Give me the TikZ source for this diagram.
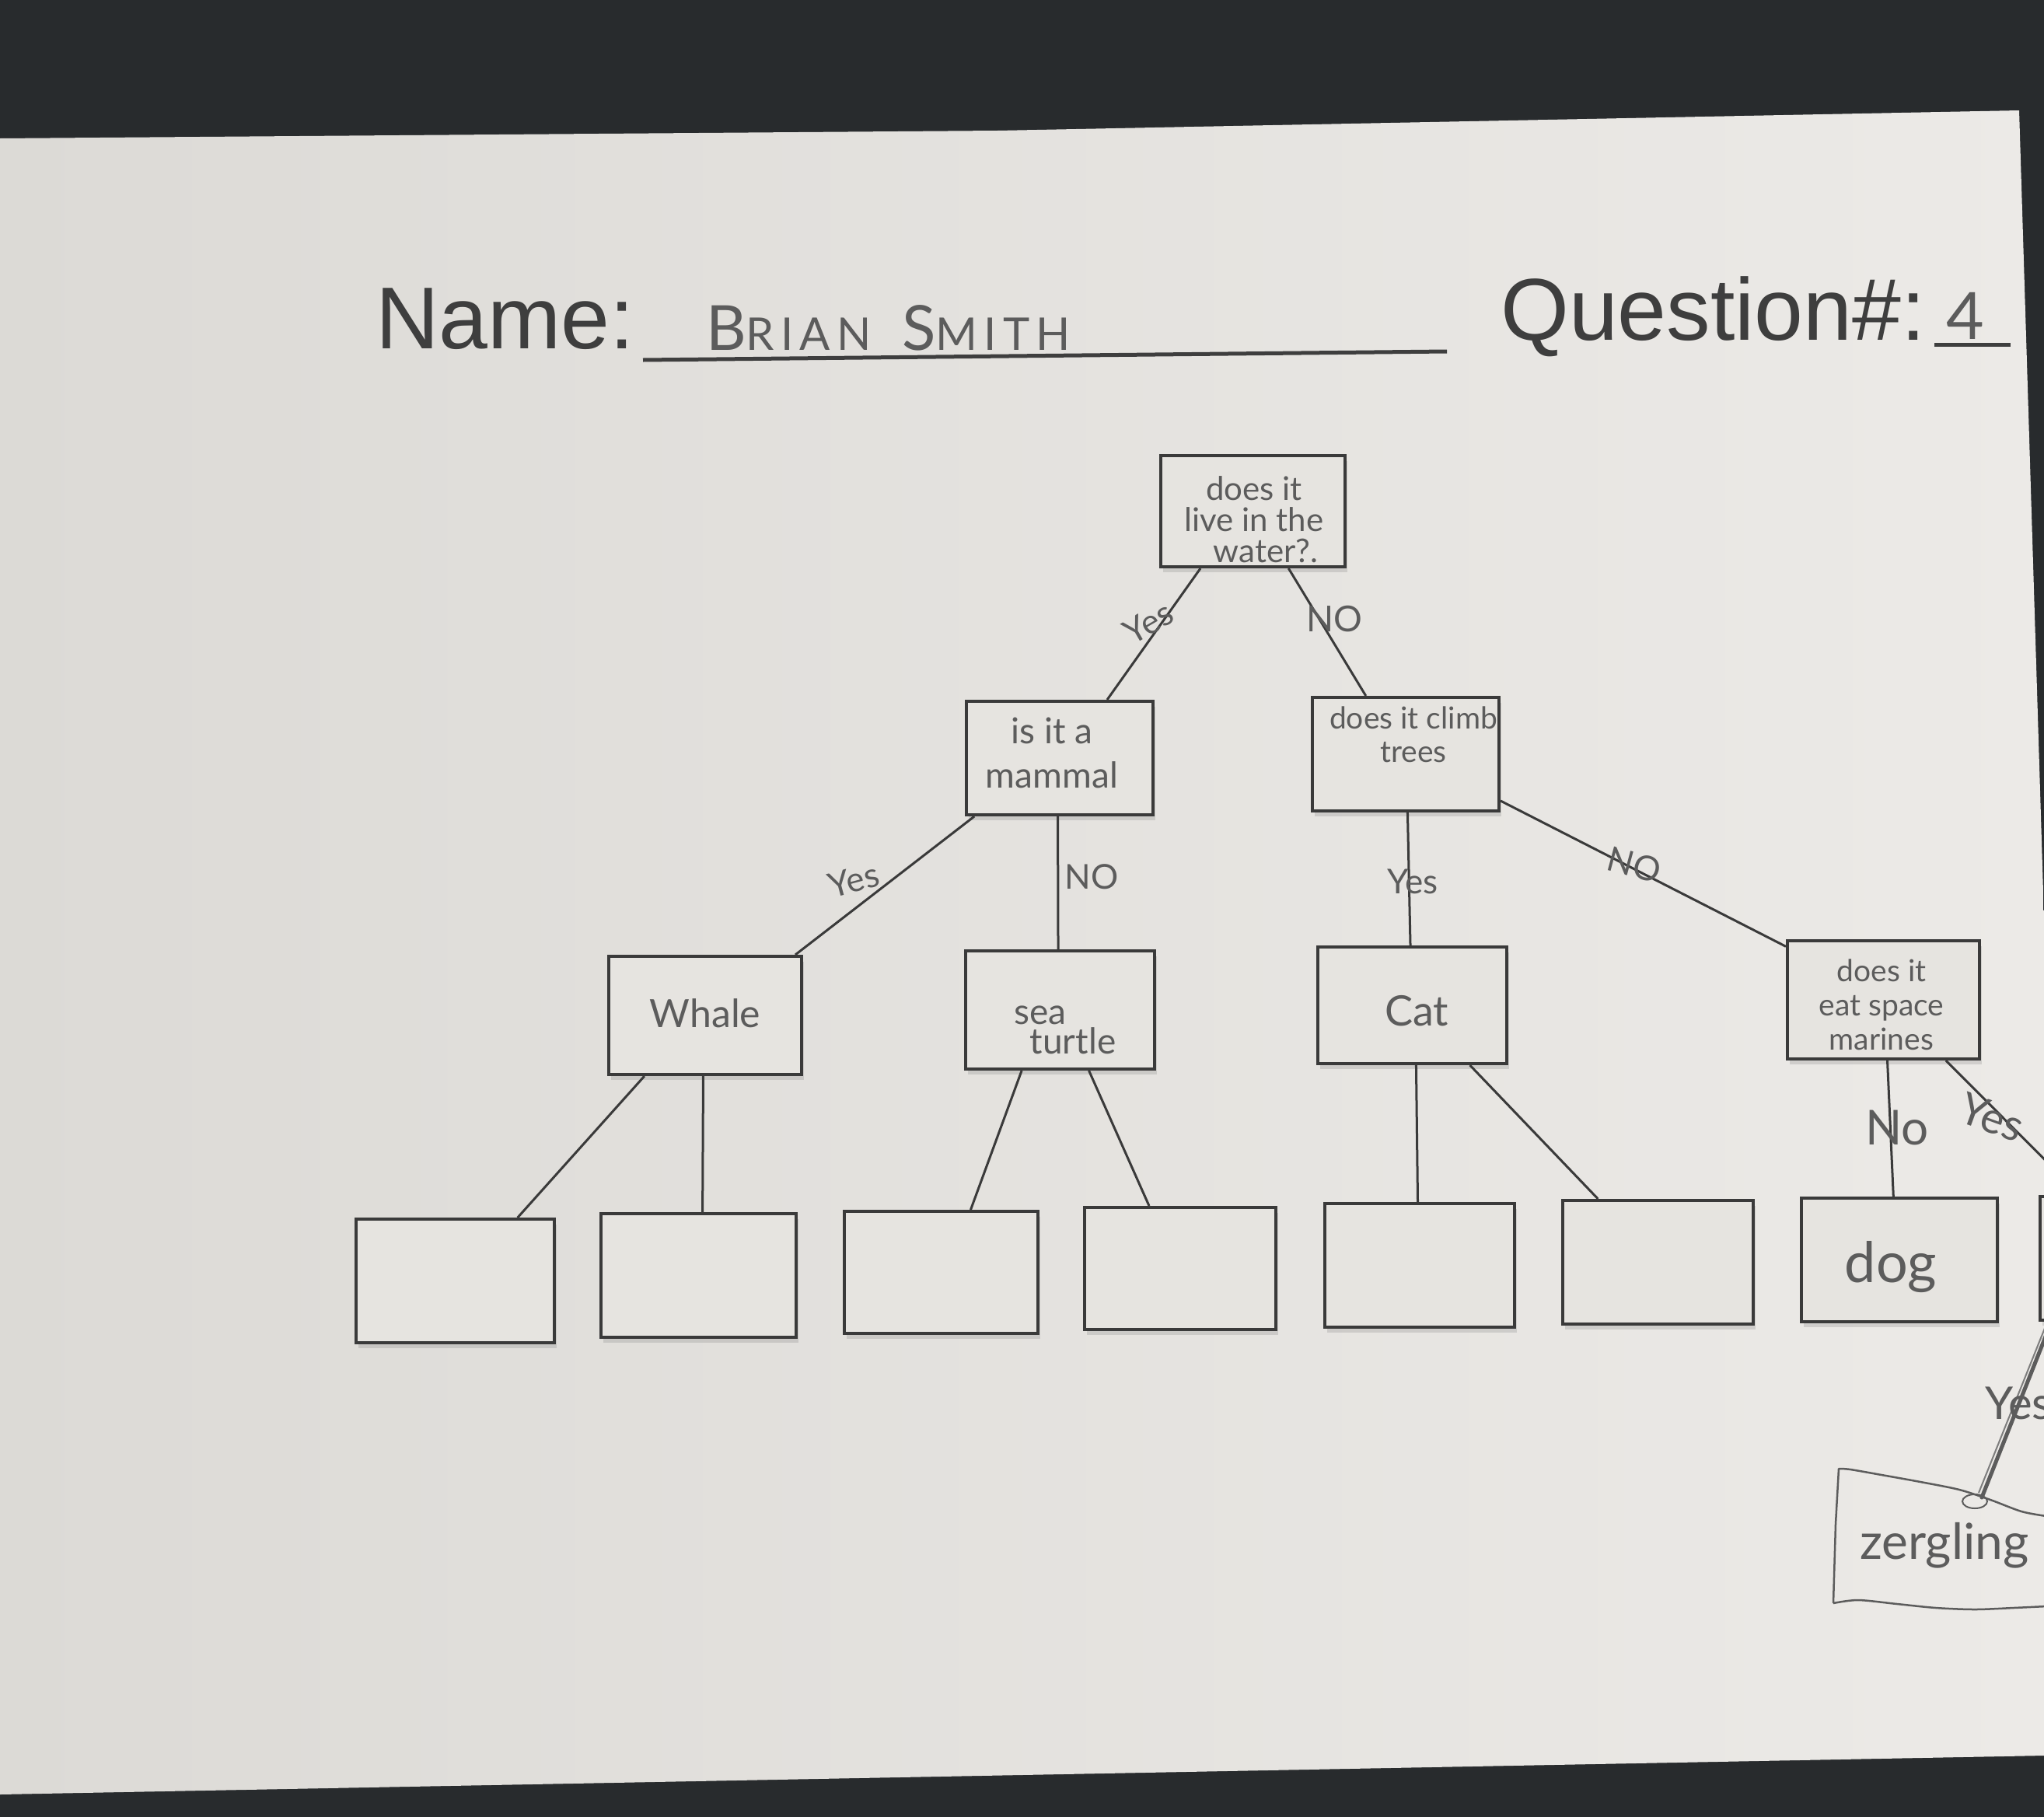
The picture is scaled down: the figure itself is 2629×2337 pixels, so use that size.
\documentclass[tikz,border=0pt]{standalone}
\usepackage{fontspec}
\setmainfont{Liberation Sans}
\newfontfamily\hand{Lato}
\newfontfamily\handwide{Lato}[LetterSpace=14]
\usetikzlibrary{shadows,calc}
\definecolor{desk}{RGB}{40,43,45}
\definecolor{paperL}{RGB}{220,218,214}
\definecolor{paperR}{RGB}{236,234,231}
\definecolor{paper}{RGB}{230,228,224}
\definecolor{ink}{RGB}{58,58,58}
\definecolor{print}{RGB}{62,62,62}
\definecolor{pencil}{RGB}{92,92,92}
\begin{document}
\begin{tikzpicture}[x=1pt,y=-1pt,
  box/.style={draw=ink, line width=4pt, fill=paper, inner sep=0pt,
    drop shadow={shadow xshift=3pt, shadow yshift=-7pt, opacity=0.25}},
  conn/.style={draw=ink, line width=3pt},
  hw/.style={text=pencil, inner sep=0pt, align=center},
  lab/.style={text=pencil, inner sep=0pt, font={\hand\fontsize{44}{44}\selectfont}},
  printed/.style={text=print, inner sep=0pt, font={\fontsize{113}{113}\selectfont}}]

\useasboundingbox (0,0) rectangle (2629,2337);
\clip (0,0) rectangle (2629,2337);
\fill[desk] (0,0) rectangle (2629,2337);
\shade[left color=paperL, right color=paperR]
  (0,178) -- (1283,168) -- (2597,142) -- (2629,1180) -- (2629,2258)
  -- (1314,2283) -- (0,2308) -- cycle;

% header
\node[printed, anchor=base west] (name) at (483,448) {Name:};
\draw[print, line width=5pt] (827,463) -- (1861,452);
\node[hw, anchor=base west, font={\handwide\fontsize{58}{58}\selectfont}] (who) at (908,450)
  {{\fontsize{80}{80}\selectfont B}RIAN\hspace{40pt}{\fontsize{80}{80}\selectfont S}MITH};
\node[printed, anchor=base west] (question) at (1930,437) {Question\#:};
\draw[print, line width=5pt] (2488,443) -- (2586,443);
\node[hw, anchor=base, font={\hand\fontsize{84}{84}\selectfont}] (qnum) at (2528,436) {4};

% boxes
\node[box, minimum width=237pt, minimum height=143pt] (root) at (1611.5,657.5) {};
\node[box, minimum width=240pt, minimum height=146pt] (mammal) at (1363,975) {};
\node[box, minimum width=240pt, minimum height=146pt] (climb) at (1808,970) {};
\node[box, minimum width=248pt, minimum height=152pt] (whale) at (907,1306) {};
\node[box, minimum width=243pt, minimum height=152pt] (turtle) at (1363.5,1299) {};
\node[box, minimum width=243pt, minimum height=150pt] (cat) at (1816.5,1293) {};
\node[box, minimum width=247pt, minimum height=152pt] (marines) at (2422.5,1286) {};
\node[box, minimum width=255pt, minimum height=159pt] (l1) at (585.5,1647.5) {};
\node[box, minimum width=251pt, minimum height=159pt] (l2) at (898.5,1640.5) {};
\node[box, minimum width=249pt, minimum height=157pt] (l3) at (1210.5,1636.5) {};
\node[box, minimum width=246pt, minimum height=157pt] (l4) at (1518,1631.5) {};
\node[box, minimum width=244pt, minimum height=159pt] (l5) at (1826,1627.5) {};
\node[box, minimum width=245pt, minimum height=159pt] (l6) at (2132.5,1623.5) {};
\node[box, minimum width=252pt, minimum height=159pt] (dog) at (2443,1620.5) {};
\node[box, minimum width=250pt, minimum height=159pt] (l8) at (2749,1618.5) {};

% handwritten texts in boxes
\node[hw, font={\hand\fontsize{42}{40}\selectfont}] (roottext) at (1613,668)
  {does it\\live in the\\\hspace*{30pt}water?.};
\node[hw, font={\hand\fontsize{46}{57}\selectfont}] (mammaltext) at (1353,968)
  {is it a\\mammal};
\node[hw, font={\hand\fontsize{39}{43}\selectfont}] (climbtext) at (1818,945)
  {does it climb\\trees};
\node[hw, font={\hand\fontsize{50}{50}\selectfont}] (whaletext) at (907,1303) {Whale};
\node[hw, align=left, font={\hand\fontsize{46}{38}\selectfont}] (turtletext) at (1370,1325)
  {sea\\\hspace*{20pt}turtle};
\node[hw, font={\hand\fontsize{54}{54}\selectfont}] (cattext) at (1822,1300) {Cat};
\node[hw, font={\hand\fontsize{39}{44}\selectfont}] (marinestext) at (2420,1292)
  {does it\\eat space\\marines};
\node[hw, font={\hand\fontsize{72}{72}\selectfont}] (dogtext) at (2432,1630) {dog};

% connectors
\draw[conn] ($(root.south west)!0.22!(root.south east)$) -- ($(mammal.north west)!0.75!(mammal.north east)$);
\draw[conn] ($(root.south west)!0.69!(root.south east)$) -- ($(climb.north west)!0.29!(climb.north east)$);
\draw[conn] ($(mammal.south west)!0.05!(mammal.south east)$) -- ($(whale.north west)!0.96!(whale.north east)$);
\draw[conn] ($(mammal.south west)!0.49!(mammal.south east)$) -- ($(turtle.north west)!0.49!(turtle.north east)$);
\draw[conn] ($(climb.south west)!0.51!(climb.south east)$) -- ($(cat.north west)!0.49!(cat.north east)$);
\draw[conn] ($(climb.north east)!0.9!(climb.south east)$) -- ($(marines.north west)!0.06!(marines.south west)$);
\draw[conn] ($(whale.south west)!0.19!(whale.south east)$) -- ($(l1.north west)!0.81!(l1.north east)$);
\draw[conn] ($(whale.south west)!0.49!(whale.south east)$) -- ($(l2.north west)!0.52!(l2.north east)$);
\draw[conn] ($(turtle.south west)!0.30!(turtle.south east)$) -- ($(l3.north west)!0.65!(l3.north east)$);
\draw[conn] ($(turtle.south west)!0.65!(turtle.south east)$) -- ($(l4.north west)!0.34!(l4.north east)$);
\draw[conn] ($(cat.south west)!0.52!(cat.south east)$) -- ($(l5.north west)!0.49!(l5.north east)$);
\draw[conn] ($(cat.south west)!0.80!(cat.south east)$) -- ($(l6.north west)!0.19!(l6.north east)$);
\draw[conn] ($(marines.south west)!0.52!(marines.south east)$) -- ($(dog.north west)!0.47!(dog.north east)$);
\draw[conn] ($(marines.south west)!0.82!(marines.south east)$) -- ($(l8.north west)!0.21!(l8.north east)$);

% connector labels
\node[lab, rotate=30] (y1) at (1477,801) {Yes};
\node[lab, font={\hand\fontsize{46}{46}\selectfont}] (n1) at (1716,796) {NO};
\node[lab, rotate=15] (y2) at (1098,1132) {Yes};
\node[lab] (n2) at (1404,1128) {NO};
\node[lab] (y3) at (1817,1134) {Yes};
\node[lab, rotate=-15] (n3) at (2102,1112) {NO};
\node[lab, font={\hand\fontsize{62}{62}\selectfont}] (n4) at (2440,1450) {No};
\node[lab, rotate=-20, font={\hand\fontsize{56}{56}\selectfont}] (y4) at (2562,1437) {Yes};

% pencil addition: zergling
\node[hw, anchor=west, font={\hand\fontsize{64}{64}\selectfont}] (zerg) at (2392,1988) {zergling};
\coordinate (zergtop) at (2549,1926);
\draw[pencil, line width=2.5pt, line join=round]
  plot[smooth, tension=0.5] coordinates {(2632,1950) (2600,1944) (2560,1929) (2520,1916)
    (2470,1906) (2420,1897) (2380,1890) (2365,1889)}
  -- (2361,1960) -- (2358,2062)
  plot[smooth, tension=0.5] coordinates {(2358,2062) (2390,2058) (2440,2063) (2490,2068)
    (2540,2070) (2590,2068) (2632,2066)};
\draw[pencil, line width=5pt, line cap=round] ($(l8.south west)!0.065!(l8.south east)$) -- (zergtop);
\draw[pencil!80, line width=2pt] ($(l8.south west)!0.065!(l8.south east)+(-6,2)$) -- ($(zergtop)+(-4,-6)$);
\draw[pencil, line width=2pt] (2540,1931) ellipse [x radius=16, y radius=9];
\node[lab, anchor=west, font={\hand\fontsize{58}{58}\selectfont}] (y5) at (2553,1805) {Yes};
\end{tikzpicture}
\end{document}
